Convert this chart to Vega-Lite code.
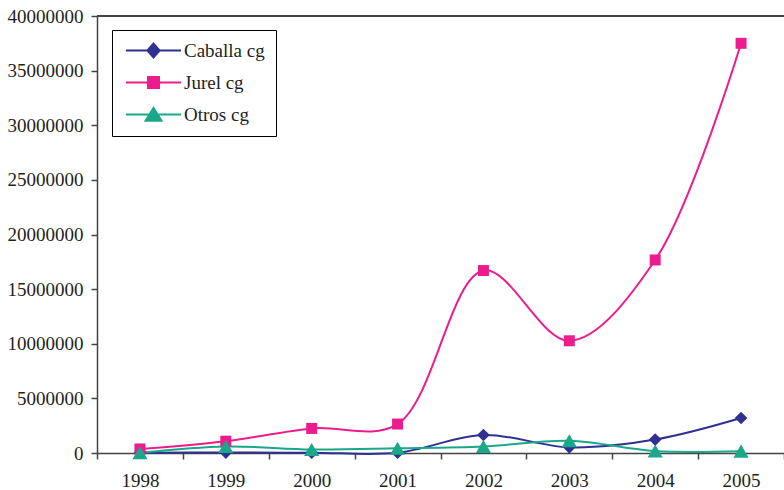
{
  "$schema": "https://vega.github.io/schema/vega-lite/v6.json",
  "width": 687,
  "height": 437,
  "autosize": {"type": "none"},
  "padding": {"left": 97, "top": 16, "right": 0, "bottom": 37},
  "background": "white",
  "config": {
    "view": {"stroke": null},
    "font": "Liberation Serif",
    "axis": {
      "labelFont": "Liberation Serif",
      "labelFontSize": 19,
      "labelColor": "#231F20",
      "domainColor": "#444",
      "tickColor": "#444",
      "domainWidth": 1.5,
      "tickWidth": 1.5,
      "grid": false,
      "title": null
    }
  },
  "data": {
    "values": [
      {"year": "1998", "series": "Caballa cg", "value": 30000},
      {"year": "1999", "series": "Caballa cg", "value": 40000},
      {"year": "2000", "series": "Caballa cg", "value": 30000},
      {"year": "2001", "series": "Caballa cg", "value": 20000},
      {"year": "2002", "series": "Caballa cg", "value": 1650000},
      {"year": "2003", "series": "Caballa cg", "value": 520000},
      {"year": "2004", "series": "Caballa cg", "value": 1230000},
      {"year": "2005", "series": "Caballa cg", "value": 3200000},
      {"year": "1998", "series": "Jurel cg", "value": 370000},
      {"year": "1999", "series": "Jurel cg", "value": 1080000},
      {"year": "2000", "series": "Jurel cg", "value": 2250000},
      {"year": "2001", "series": "Jurel cg", "value": 2650000},
      {"year": "2002", "series": "Jurel cg", "value": 16700000},
      {"year": "2003", "series": "Jurel cg", "value": 10270000},
      {"year": "2004", "series": "Jurel cg", "value": 17670000},
      {"year": "2005", "series": "Jurel cg", "value": 37500000},
      {"year": "1998", "series": "Otros cg", "value": 20000},
      {"year": "1999", "series": "Otros cg", "value": 600000},
      {"year": "2000", "series": "Otros cg", "value": 320000},
      {"year": "2001", "series": "Otros cg", "value": 430000},
      {"year": "2002", "series": "Otros cg", "value": 600000},
      {"year": "2003", "series": "Otros cg", "value": 1120000},
      {"year": "2004", "series": "Otros cg", "value": 180000},
      {"year": "2005", "series": "Otros cg", "value": 170000}
    ]
  },
  "encoding": {
    "x": {
      "field": "year",
      "type": "ordinal",
      "scale": {"type": "band", "paddingInner": 0, "paddingOuter": 0},
      "axis": {"labelAngle": 0, "tickBand": "extent", "tickSize": 6, "labelPadding": 12}
    },
    "y": {
      "field": "value",
      "type": "quantitative",
      "scale": {"domain": [0, 40000000], "nice": false},
      "axis": {"values": [0, 5000000, 10000000, 15000000, 20000000, 25000000, 30000000, 35000000, 40000000], "format": "d", "tickSize": 6, "labelPadding": 8}
    },
    "color": {
      "field": "series",
      "type": "nominal",
      "scale": {"domain": ["Caballa cg", "Jurel cg", "Otros cg"], "range": ["#2E3192", "#EC1C8D", "#1BA789"]},
      "legend": {
        "title": null,
        "orient": "none",
        "legendX": 15,
        "legendY": 14,
        "strokeColor": "#000",
        "fillColor": "white",
        "padding": 11,
        "rowPadding": 10,
        "symbolSize": 144,
        "symbolStrokeWidth": 2,
        "labelFont": "Liberation Serif",
        "labelFontSize": 19,
        "labelColor": "#231F20",
        "labelOffset": 42,
        "encode": {
          "symbols": {
            "update": {
              "shape": {"signal": "datum.value === 'Caballa cg' ? 'M-1.1,0H8.1M3.5,-1.15L4.52,0L3.5,1.15L2.48,0Z' : datum.value === 'Jurel cg' ? 'M-1.1,0H8.1M2.58,-0.92H4.42V0.92H2.58Z' : 'M-1.1,0H8.1M3.5,-1.1L4.83,1.05H2.17Z'"},
              "fill": {"signal": "scale('color', datum.value)"},
              "stroke": {"signal": "scale('color', datum.value)"},
              "strokeWidth": {"value": 2},
              "opacity": {"value": 1}
            }
          }
        }
      }
    }
  },
  "layer": [
    {
      "mark": {"type": "rule", "color": "#444", "strokeWidth": 1.5},
      "encoding": {"y": {"datum": 40000000}, "x": null, "color": null}
    },
    {
      "mark": {"type": "line", "interpolate": "catmull-rom", "strokeWidth": 2}
    },
    {
      "mark": {"type": "point", "filled": true, "opacity": 1},
      "encoding": {
        "shape": {
          "condition": [
            {"test": "datum.series === 'Caballa cg'", "value": "diamond"},
            {"test": "datum.series === 'Jurel cg'", "value": "square"}
          ],
          "value": "triangle-up"
        },
        "size": {
          "condition": [
            {"test": "datum.series === 'Caballa cg'", "value": 160},
            {"test": "datum.series === 'Jurel cg'", "value": 121}
          ],
          "value": 230
        }
      }
    }
  ]
}
